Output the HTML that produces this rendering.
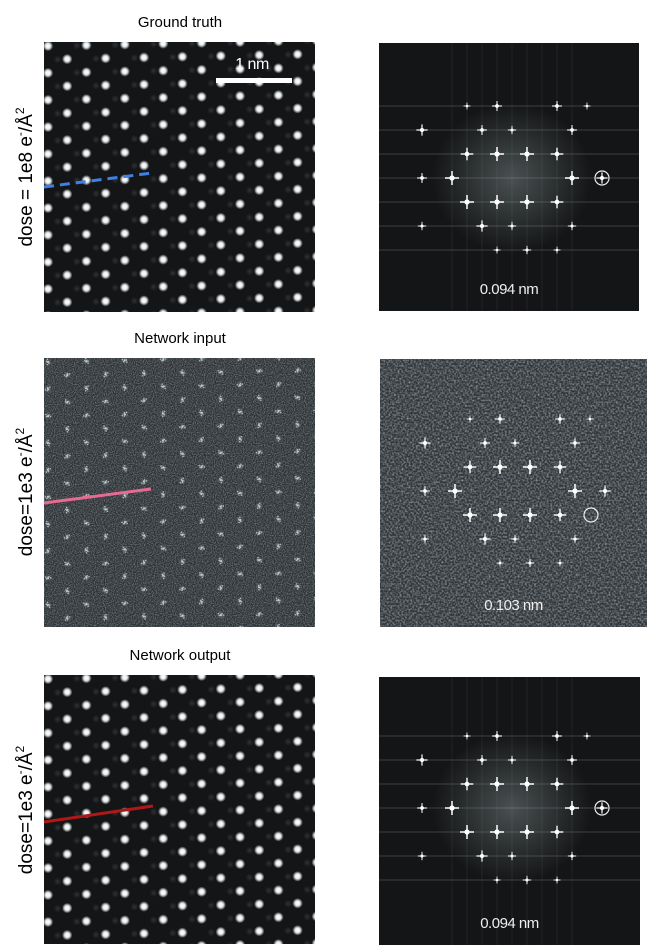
<!DOCTYPE html>
<html><head><meta charset="utf-8"><style>
body{margin:0;background:#fff;}
svg{display:block;font-family:"Liberation Sans",sans-serif;}
</style></head><body>
<svg id="fig" width="657" height="952" viewBox="0 0 657 952">
<defs>
<filter id="noise" x="0" y="0" width="100%" height="100%"><feTurbulence type="fractalNoise" baseFrequency="0.9" numOctaves="1" seed="3"/><feColorMatrix type="matrix" values="0 0 0 0 0.5  0 0 0 0 0.52  0 0 0 0 0.54  1.2 0 0 0 -0.45"/></filter>
<filter id="noise2" x="0" y="0" width="100%" height="100%"><feTurbulence type="fractalNoise" baseFrequency="0.55" numOctaves="1" seed="7"/><feColorMatrix type="matrix" values="0 0 0 0 0.62  0 0 0 0 0.65  0 0 0 0 0.67  1.3 0 0 0 -0.5"/></filter>
<radialGradient id="dot"><stop offset="0" stop-color="#fff"/><stop offset="0.45" stop-color="#e8eef0"/><stop offset="1" stop-color="#fff" stop-opacity="0"/></radialGradient>
<radialGradient id="halo"><stop offset="0" stop-color="#9aa" stop-opacity="0.4"/><stop offset="1" stop-color="#9aa" stop-opacity="0"/></radialGradient>
<radialGradient id="halo2"><stop offset="0" stop-color="#889" stop-opacity="0.25"/><stop offset="1" stop-color="#889" stop-opacity="0"/></radialGradient>
<clipPath id="c1"><rect x="44" y="42" width="271" height="270"/></clipPath>
<clipPath id="c2"><rect x="44" y="358" width="271" height="269"/></clipPath>
<clipPath id="c3"><rect x="44" y="675" width="271" height="269"/></clipPath>
</defs>
<text x="180" y="27" font-size="15" text-anchor="middle">Ground truth</text>
<text x="180" y="343" font-size="15" text-anchor="middle">Network input</text>
<text x="180" y="660" font-size="15" text-anchor="middle">Network output</text>
<text transform="translate(32,177) rotate(-90)" font-size="19" text-anchor="middle">dose = 1e8 e<tspan font-size="12" dy="-8">-</tspan><tspan dy="8">/Å</tspan><tspan font-size="12" dy="-8">2</tspan></text>
<text transform="translate(32,492) rotate(-90)" font-size="19" text-anchor="middle">dose=1e3 e<tspan font-size="12" dy="-8">-</tspan><tspan dy="8">/Å</tspan><tspan font-size="12" dy="-8">2</tspan></text>
<text transform="translate(32,810) rotate(-90)" font-size="19" text-anchor="middle">dose=1e3 e<tspan font-size="12" dy="-8">-</tspan><tspan dy="8">/Å</tspan><tspan font-size="12" dy="-8">2</tspan></text>
<g id="panels"></g>
</svg>
<script>
// FFT spot lattice: row index, column index (half-offset on odd rows), intensity
const spotRows = [-3,-3,-3,-3,-2,-2,-2,-2,-1,-1,-1,-1,0,0,0,0,1,1,1,1,2,2,2,2,3,3,3];
const spotCols = [-2,-1,1,2,-3,-1,0,2,-2,-1,0,1,-3,-2,2,3,-2,-1,0,1,-3,-1,0,2,-1,0,1];
const spotInt  = [0.5,0.7,0.7,0.5,0.8,0.7,0.6,0.7,0.9,1,1,0.9,0.7,1,1,0.8,1,1,1,0.9,0.6,0.8,0.6,0.6,0.5,0.6,0.5];
const NS='http://www.w3.org/2000/svg';
const root=document.getElementById('panels');
function el(t,a,p){const e=document.createElementNS(NS,t);for(const k in a)e.setAttribute(k,a[k]);(p||root).appendChild(e);return e;}

function realPanel(x,y,w,h,clip,noisy,name){
  const g=el('g',{'clip-path':'url(#'+clip+')'});
  
  
  el('rect',{x:x,y:y,width:w,height:h,fill:noisy?'#2a3033':'#141516'},g);
  if(noisy) el('rect',{x:x,y:y,width:w,height:h,filter:'url(#noise)'},g);
  const dx=19.2, dy=27;
  for(let c=-1;c<16;c++){
    for(let r=-1;r<12;r++){
      const cx=x+4+c*dx, cy=y+4+r*dy+(c%2?13.5:0)-c*0.4;
      if(noisy){
        el('circle',{cx:cx,cy:cy,r:4,fill:'url(#halo)'},g);
        for(let k=0;k<7;k++){const a=k*0.9+c*1.3+r,rr=0.5+(k%3)*1.1;el('circle',{cx:cx+Math.cos(a)*rr,cy:cy+Math.sin(a)*rr,r:0.8,fill:'#cfd8da',opacity:0.75},g);}
      } else {
        el('circle',{cx:cx,cy:cy,r:5.2,fill:'url(#dot)'},g);
        el('circle',{cx:cx+dx/2,cy:cy+(c%2?-13.5:13.5)/1,r:4,fill:'url(#halo2)'},g);
      }
    }
  }
}
function fftPanel(x,y,w,h,cx,cy,noisy,circ,label,name){
  const g=el('g',{});
  
  
  el('rect',{x:x,y:y,width:w,height:h,fill:noisy?'#30363a':'#141516'},g);
  if(noisy) el('rect',{x:x,y:y,width:w,height:h,filter:'url(#noise2)'},g);
  else {
    el('ellipse',{cx:cx,cy:cy,rx:80,ry:75,fill:'url(#halo)'},g);
    for(let r=-3;r<=3;r++) el('line',{x1:x,x2:x+w,y1:cy+r*24,y2:cy+r*24,stroke:'#aab',opacity:0.22,'stroke-width':1.2},g);
    for(let i=-4;i<=4;i++) el('line',{x1:cx+i*15,x2:cx+i*15,y1:y,y2:y+h,stroke:'#aab',opacity:0.1,'stroke-width':1},g);
  }
  for(let i=0;i<spotRows.length;i++){
    const r=spotRows[i],c=spotCols[i];
    const sx=cx+30*c+(r%2?15:0), sy=cy+24*r, s=spotInt[i];
    const sp=el('g',{},g);
    
    
    el('line',{x1:sx-7*s,x2:sx+7*s,y1:sy,y2:sy,stroke:'#fff','stroke-width':1.5,opacity:s},sp);
    el('line',{x1:sx,x2:sx,y1:sy-7*s,y2:sy+7*s,stroke:'#fff','stroke-width':1.5,opacity:s},sp);
    el('circle',{cx:sx,cy:sy,r:2.6*s,fill:'#fff'},sp);
  }
  const ci=el('circle',{cx:circ[0],cy:circ[1],r:7,fill:'none',stroke:'#eee','stroke-width':1.2},g);
  
  
  const t=el('text',{x:x+w/2,y:y+h-17,'font-size':15,fill:'#eee','text-anchor':'middle','letter-spacing':'-0.5'},g);
  t.textContent=label;
  
  
}
realPanel(44,42,271,270,'c1',false,'ground-truth-image');
realPanel(44,358,271,269,'c2',true,'network-input-image');
realPanel(44,675,271,269,'c3',false,'network-output-image');
fftPanel(379,43,260,268,512,178,false,[602,178],'0.094 nm','fft-ground-truth');
fftPanel(380,359,267,268,515,491,true,[591,515],'0.103 nm','fft-network-input');
fftPanel(379,677,261,268,512,808,false,[602,808],'0.094 nm','fft-network-output');
// scale bar
const sb=el('rect',{x:216,y:78,width:76,height:5,fill:'#fff'});


const st=el('text',{x:252,y:69,'font-size':16,fill:'#fff','text-anchor':'middle','letter-spacing':'-0.5'});
st.textContent='1 nm';


// profile lines
const l1=el('line',{x1:44,y1:187,x2:152,y2:173,stroke:'#3f7fe6','stroke-width':3,'stroke-dasharray':'10 6'});


const l2=el('line',{x1:44,y1:503,x2:151,y2:489,stroke:'#e86a92','stroke-width':3});


const l3=el('line',{x1:44,y1:822,x2:153,y2:806,stroke:'#b01818','stroke-width':3});


</script>
</body></html>
